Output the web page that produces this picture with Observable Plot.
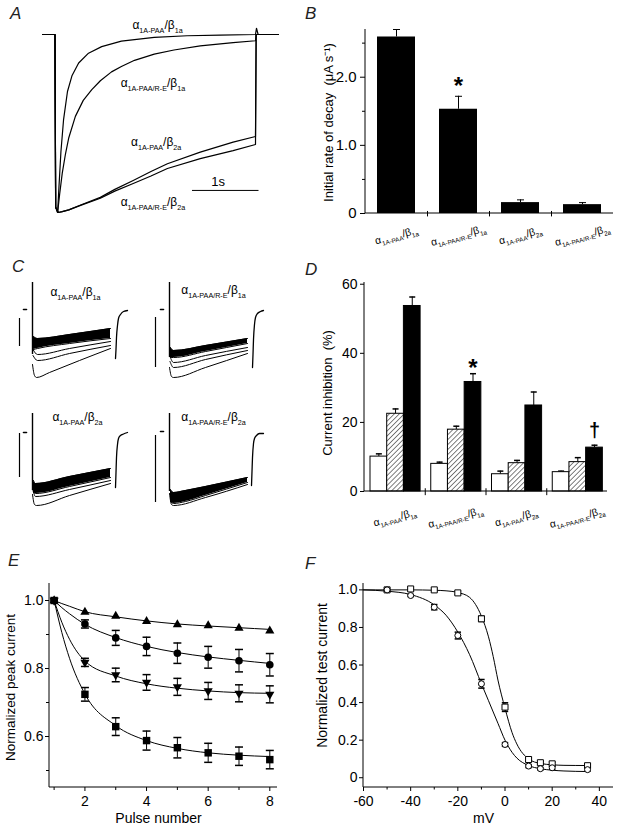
<!DOCTYPE html>
<html>
<head>
<meta charset="utf-8">
<script src="https://cdn.jsdelivr.net/npm/d3@7"></script>
<script src="https://cdn.jsdelivr.net/npm/@observablehq/plot@0.6"></script>
<style>
  html, body { margin: 0; padding: 0; background: #fff; }
  #fig { position: relative; width: 620px; height: 827px; background: #fff; overflow: hidden;
         font-family: "Liberation Sans", Arial, Helvetica, sans-serif; color: #000; }
  .letter { position: absolute; font-style: italic; font-size: 17px; line-height: 1; color: #222; }
</style>
</head>
<body>
<div id="fig"></div>
<script>
// ================= DATA =================
const constructs = ["α_{1A-PAA}/β_{1a}", "α_{1A-PAA/R-E}/β_{1a}", "α_{1A-PAA}/β_{2a}", "α_{1A-PAA/R-E}/β_{2a}"];

// ---- Panel A: normalised current traces [time (s), current] ----
const traceA1 = [[-0.2,0],[-0.01,0],[0,-0.97],[0.03,-1.0],[0.05,-0.86],[0.08,-0.66],[0.12,-0.48],[0.18,-0.32],[0.25,-0.23],[0.35,-0.16],[0.5,-0.105],[0.7,-0.068],[1.0,-0.037],[1.5,-0.016],[2.0,-0.007],[2.5,-0.003],[3.04,0],[3.055,0.035],[3.08,0],[3.39,0]];
const traceA2 = [[-0.2,0],[-0.01,0],[0,-0.97],[0.03,-1.0],[0.06,-0.9],[0.1,-0.78],[0.15,-0.67],[0.2,-0.58],[0.3,-0.46],[0.42,-0.37],[0.55,-0.31],[0.68,-0.26],[0.85,-0.21],[1.0,-0.18],[1.2,-0.145],[1.5,-0.11],[1.8,-0.087],[2.2,-0.064],[2.7,-0.046],[3.04,-0.035],[3.05,0],[3.39,0]];
const traceA3 = [[-0.2,0],[-0.01,0],[0,-0.97],[0.04,-1.0],[0.1,-0.995],[0.2,-0.985],[0.4,-0.955],[0.68,-0.915],[0.9,-0.87],[1.18,-0.82],[1.45,-0.77],[1.7,-0.726],[2.2,-0.661],[2.7,-0.605],[3.04,-0.573],[3.05,0],[3.39,0]];
const traceA4 = [[-0.2,0],[-0.01,0],[0,-0.97],[0.04,-1.0],[0.1,-0.995],[0.2,-0.985],[0.4,-0.957],[0.68,-0.92],[0.9,-0.88],[1.18,-0.837],[1.45,-0.795],[1.7,-0.753],[2.2,-0.697],[2.7,-0.652],[3.04,-0.618],[3.05,0],[3.39,0]];
const aLabelTime = [1.55, 1.48, 1.53, 1.48];
const aLabelCurrent = [0.05, -0.275, -0.607, -0.944];
const aScaleBarTime = [2.08, 3.08];
const aScaleBarCurrent = -0.876;
const aScaleText = "1s";

// ---- Panel B: initial rate of decay (µA/s) ----
const decayRate = [2.59, 1.53, 0.16, 0.13];
const decayErr = [0.11, 0.19, 0.04, 0.03];
const bTicks = [0, 1, 2];
const bMinorTicks = [0.5, 1.5, 2.5];
const bStar = [{g: constructs[1], y: 1.96}];

// ---- Panel C: current families [time, current] ----
const cScaleBars = [[0,-9,-37],[0,-8,-58],[0,-1,-45],[0,-4,-71]];
const cDash = [[4,7],[5,8],[4,7],[5,8]];
const cSpikes = [[13,27,-45],[14,27,-48],[13,19,-58],[14,18,-60]];
const cBandTL = [[14,-27,-40],[18,-29,-39],[50,-25,-34],[91,-19,-29]];
const cBandTR = [[15,-38,-48],[18,-41,-48],[50,-36,-42],[92,-29,-34]];
const cBandBL = [[14,-48,-60],[16,-51,-61],[50,-44,-54],[91,-36,-45]];
const cBandBR = [[15,-58,-70],[18,-61,-72],[30,-59,-70],[50,-55,-64],[92,-46,-51]];
const cTracesTL = [
  [[13.5,-40],[18,-45],[50,-39],[91,-32]],
  [[13.5,-46],[18,-51],[50,-44],[91,-36]],
  [[13,-55],[15,-66],[17,-68],[30,-63],[60,-51],[91,-39]]];
const cTracesTR = [
  [[14.5,-47],[18,-53],[50,-46],[92,-38]],
  [[14.5,-52],[18,-58],[50,-50],[92,-41]],
  [[14,-58],[16,-67],[18,-68],[50,-58],[92,-44]]];
const cTracesBL = [
  [[13.5,-58],[16,-64],[50,-57],[91,-48]],
  [[13,-62],[15,-72],[17,-73],[50,-63],[91,-51]]];
const cTracesBR = [
  [[14,-62],[16,-73],[18,-74],[50,-66],[92,-53]]];
const cTailTL = [[96,-49],[96.5,-40],[97,-28],[98,-16],[99,-9],[101,-5],[104,-2],[108,-1]];
const cTailTR = [[97,-58],[97.5,-45],[98,-30],[99,-15],[100,-8],[102,-4],[105,-2],[108,-1]];
const cTailBL = [[96,-55],[96.5,-40],[97,-25],[98,-12],[99,-6],[101,-3],[104,-1.5],[108,0]];
const cTailBR = [[96,-54],[96.5,-40],[97,-26],[98,-12],[99,-7],[101,-4],[104,-2],[108,-2]];
const cTitleTime = [56, 58, 58, 58];
const cTitleCurrent = [17, 19, 15, 14];

// ---- Panel D: current inhibition (%) ----
const inhibOpen = [10.1, 8.0, 5.0, 5.6];
const inhibOpenErr = [0.8, 0.5, 0.9, 0.3];
const inhibHatch = [22.5, 17.9, 8.2, 8.5];
const inhibHatchErr = [1.4, 1.0, 0.8, 1.3];
const inhibSolid = [53.7, 31.7, 24.9, 12.7];
const inhibSolidErr = [2.6, 2.4, 3.9, 0.7];
const dTicks = [0, 20, 40, 60];
const dStar = [{g: constructs[1], y: 37.4}];
const dDagger = [{g: constructs[3], y: 17.7}];

// ---- Panel E: normalised peak current vs pulse number ----
const pulse = [1, 2, 3, 4, 5, 6, 7, 8];
const peakTri = [1.0, 0.966, 0.954, 0.939, 0.929, 0.926, 0.919, 0.911];
const peakCirc = [1.0, 0.931, 0.890, 0.865, 0.845, 0.833, 0.823, 0.811];
const peakCircErr = [0, 0.012, 0.022, 0.027, 0.030, 0.032, 0.033, 0.033];
const peakInv = [1.0, 0.818, 0.781, 0.759, 0.746, 0.734, 0.727, 0.724];
const peakInvErr = [0, 0.012, 0.020, 0.023, 0.025, 0.025, 0.025, 0.025];
const peakSq = [1.0, 0.724, 0.629, 0.588, 0.567, 0.552, 0.542, 0.532];
const peakSqErr = [0, 0.020, 0.026, 0.028, 0.030, 0.028, 0.027, 0.027];
const eFitX = [1, 1.25, 1.5, 2, 3, 4, 5, 6, 7, 8];
const eFitTri = [1.0, 0.991, 0.983, 0.967, 0.952, 0.940, 0.931, 0.925, 0.920, 0.915];
const eFitCirc = [1.0, 0.979, 0.961, 0.930, 0.891, 0.865, 0.847, 0.834, 0.824, 0.815];
const eFitInv = [1.0, 0.936, 0.886, 0.822, 0.778, 0.755, 0.742, 0.734, 0.729, 0.727];
const eFitSq = [1.0, 0.906, 0.830, 0.725, 0.632, 0.588, 0.565, 0.552, 0.545, 0.541];

// ---- Panel F: normalised test current vs prepulse (mV) ----
const mV = [-50, -40, -30, -20, -10, 0, 10, 15, 20, 35];
const testSq = [1.0, 1.005, 1.0, 0.984, 0.846, 0.376, 0.097, 0.080, 0.074, 0.064];
const testSqErr = [0, 0.005, 0.005, 0.008, 0.014, 0.023, 0.010, 0.008, 0.008, 0.008];
const testCirc = [1.0, 0.970, 0.908, 0.757, 0.500, 0.177, 0.062, 0.048, 0.053, 0.043];
const testCircErr = [0, 0.005, 0.014, 0.018, 0.023, 0.010, 0.008, 0.006, 0.008, 0.008];
const fFitX = [-60, -50, -40, -30, -25, -20, -15, -10, -7, -5, -3, 0, 3, 5, 10, 15, 20, 25, 35];
const fFitSq = [1.0, 1.0, 1.0, 0.998, 0.995, 0.986, 0.96, 0.86, 0.75, 0.645, 0.52, 0.37, 0.24, 0.18, 0.10, 0.076, 0.069, 0.066, 0.065];
const fFitCirc = [1.0, 0.993, 0.975, 0.92, 0.865, 0.775, 0.655, 0.50, 0.41, 0.35, 0.29, 0.20, 0.135, 0.105, 0.065, 0.048, 0.040, 0.036, 0.033];

// ================= HELPERS =================
const FONT = '"Liberation Sans", Arial, Helvetica, sans-serif';
const baseStyle = {fontFamily: FONT, fontSize: "13px", background: "transparent", overflow: "visible", color: "#000"};
const fig = document.getElementById("fig");

function subify(root) {
  const NS = "http://www.w3.org/2000/svg";
  root.querySelectorAll("text").forEach(t => {
    const s = t.textContent;
    if (!s.includes("_{")) return;
    const fs = parseFloat(getComputedStyle(t).fontSize) || 12;
    while (t.firstChild) t.removeChild(t.firstChild);
    const parts = s.split(/(_\{[^}]*\})/).filter(p => p.length);
    let down = false;
    for (const p of parts) {
      const ts = document.createElementNS(NS, "tspan");
      if (p.startsWith("_{")) {
        ts.textContent = p.slice(2, -1);
        ts.setAttribute("font-size", (fs * 0.6).toFixed(2));
        if (!down) ts.setAttribute("dy", (fs * 0.28).toFixed(2));
        down = true;
      } else {
        ts.textContent = p;
        if (down) ts.setAttribute("dy", (-fs * 0.28).toFixed(2));
        down = false;
      }
      t.appendChild(ts);
    }
  });
}
function place(el, left, top) {
  el.style.position = "absolute";
  el.style.left = left + "px";
  el.style.top = top + "px";
  fig.appendChild(el);
  subify(el);
  return el;
}
function letter(txt, left, top) {
  const d = document.createElement("div");
  d.className = "letter"; d.textContent = txt;
  d.style.left = left + "px"; d.style.top = top + "px";
  fig.appendChild(d);
}
// horizontal cap symbol for error bars
const capSymbol = {draw(ctx, size) { const w = Math.sqrt(size / Math.PI); ctx.moveTo(-w, 0); ctx.lineTo(w, 0); }};
// downward triangle symbol
const triDown = {draw(ctx, size) {
  const s3 = Math.sqrt(3); const y = -Math.sqrt(size / (s3 * 3));
  ctx.moveTo(0, -y * 2); ctx.lineTo(-s3 * y, y); ctx.lineTo(s3 * y, y); ctx.closePath();
}};
// axis lines along left and bottom of the frame
function frameLines(index, scales, values, dims) {
  const {width, height, marginLeft, marginRight, marginTop, marginBottom} = dims;
  const g = d3.create("svg:g").attr("stroke", "#000").attr("stroke-width", 1).attr("fill", "none");
  g.append("line").attr("x1", marginLeft).attr("x2", marginLeft).attr("y1", marginTop).attr("y2", height - marginBottom);
  g.append("line").attr("x1", marginLeft).attr("x2", width - marginRight).attr("y1", height - marginBottom).attr("y2", height - marginBottom);
  return g.node();
}
const fmt1 = d => d === 0 ? "0" : d.toFixed(1);
const yTitle = (txt, dx, dy, fontSize) =>
  Plot.text([txt], {frameAnchor: "left", rotate: -90, dx, dy, text: d => d, fontSize, textAnchor: "middle", lineAnchor: "middle"});
const xTitle = (txt, dx, dy, fontSize) =>
  Plot.text([txt], {frameAnchor: "bottom", dx, dy, text: d => d, fontSize, textAnchor: "middle", lineAnchor: "middle"});

// ================= PANEL A =================
{
  const traces = [traceA1, traceA2, traceA3, traceA4];
  const labels = constructs.map((c, i) => ({c, t: aLabelTime[i], i: aLabelCurrent[i]}));
  const p = Plot.plot({
    width: 300, height: 225, marginLeft: 42, marginRight: 22, marginTop: 34, marginBottom: 13,
    x: {domain: [-0.2, 3.39], axis: null}, y: {domain: [-1, 0], axis: null},
    style: baseStyle,
    marks: [
      ...traces.map(tr => Plot.line(tr, {x: d => d[0], y: d => d[1], stroke: "#000", strokeWidth: 1.2})),
      Plot.line(aScaleBarTime, {x: d => d, y: () => aScaleBarCurrent, stroke: "#000", strokeWidth: 1}),
      Plot.text([aScaleText], {x: () => d3.mean(aScaleBarTime) - 0.11, y: () => aScaleBarCurrent + 0.05, text: d => d, fontSize: 13}),
      Plot.text(labels, {x: "t", y: "i", text: "c", fontSize: 12})
    ]
  });
  place(p, 0, 0);
}

// ================= PANEL B =================
{
  const data = constructs.map((g, i) => ({g, v: decayRate[i], e: decayErr[i]}));
  const p = Plot.plot({
    width: 320, height: 262, marginLeft: 65, marginRight: 7, marginTop: 29, marginBottom: 49,
    x: {domain: constructs, padding: 0, axis: null, round: false}, y: {domain: [0, 2.7], axis: null},
    style: baseStyle,
    marks: [
      Plot.ruleX(data, {x: "g", y1: "v", y2: d => d.v + d.e, stroke: "#000"}),
      Plot.dot(data, {x: "g", y: d => d.v + d.e, symbol: capSymbol, r: 3.5, stroke: "#000", strokeWidth: 1}),
      Plot.barY(data, {x: "g", y: "v", fill: "#000", insetLeft: 12, insetRight: 12}),
      frameLines,
      Plot.ruleX(constructs.slice(0, 3), {x: d => d, dx: 31, y1: 0.03, y2: -0.05, stroke: "#000"}),
      Plot.axisY({ticks: bTicks, tickFormat: fmt1, tickSize: 5, tickPadding: 4, fontSize: 15, label: null}),
      Plot.axisY({ticks: bMinorTicks, tickFormat: () => "", tickSize: 3, label: null}),
      yTitle("Initial rate of decay  (μA s⁻¹)", -37, 1, 13),
      Plot.text(constructs, {x: d => d, y: () => 0, dy: 22, rotate: -15, text: d => d, fontSize: 10.5}),
      Plot.text(bStar, {x: d => d.g, y: d => d.y, rotate: 0, dx: 0, dy: 6, text: () => "*", fontSize: 24, fontWeight: "bold", textAnchor: "middle"})
    ]
  });
  place(p, 300, 0);
}

// ================= PANEL C =================
{
  const bands = [cBandTL, cBandTR, cBandBL, cBandBR];
  const traces = [cTracesTL, cTracesTR, cTracesBL, cTracesBR];
  const tails = [cTailTL, cTailTR, cTailBL, cTailBR];
  const spots = [[17, 279], [153, 279], [17, 402], [153, 401]];
  constructs.forEach((title, k) => {
    const sb = cScaleBars[k], sp = cSpikes[k];
    const p = Plot.plot({
      width: 115, height: 105, marginLeft: 2, marginRight: 3, marginTop: 0, marginBottom: 0,
      x: {domain: [0, 110], axis: null}, y: {domain: [-75, 30], axis: null},
      style: baseStyle,
      marks: [
        Plot.ruleX([sb], {x: d => d[0], y1: d => d[1], y2: d => d[2], stroke: "#000", strokeWidth: 1.2}),
        Plot.line(cDash[k], {x: d => d, y: () => 0, stroke: "#000", strokeWidth: 1.6}),
        Plot.ruleX([sp], {x: d => d[0], y1: d => d[1], y2: d => d[2], stroke: "#000", strokeWidth: 1.4}),
        Plot.areaY(bands[k], {x: d => d[0], y1: d => d[1], y2: d => d[2], fill: "#000", curve: "monotone-x"}),
        Plot.line(bands[k], {x: d => d[0], y: d => d[1], stroke: "#000", strokeWidth: 1, curve: "monotone-x"}),
        Plot.line(bands[k], {x: d => d[0], y: d => d[2], stroke: "#000", strokeWidth: 1, curve: "monotone-x"}),
        ...traces[k].map(tr => Plot.line(tr, {x: d => d[0], y: d => d[1], stroke: "#000", strokeWidth: 1, curve: "monotone-x"})),
        Plot.line(tails[k], {x: d => d[0], y: d => d[1], stroke: "#000", strokeWidth: 1.3, curve: "monotone-x"}),
        Plot.text([title], {x: () => cTitleTime[k], y: () => cTitleCurrent[k], text: d => d, fontSize: 12})
      ]
    });
    place(p, spots[k][0], spots[k][1]);
  });
}

// ================= PANEL D =================
{
  const band = 243 / 4;
  const bw = 16.7, off = 6;
  const series = [
    {vals: inhibOpen, errs: inhibOpenErr, fill: "#fff", l: off},
    {vals: inhibHatch, errs: inhibHatchErr, fill: "url(#hatchD)", l: off + bw},
    {vals: inhibSolid, errs: inhibSolidErr, fill: "#000", l: off + 2 * bw}
  ];
  const marks = [];
  for (const s of series) {
    const data = constructs.map((g, i) => ({g, v: s.vals[i], e: s.errs[i]}));
    const dx = s.l + bw / 2 - band / 2;
    marks.push(
      Plot.ruleX(data, {x: "g", dx, y1: "v", y2: d => d.v + d.e, stroke: "#000"}),
      Plot.dot(data, {x: "g", dx, y: d => d.v + d.e, symbol: capSymbol, r: 3, stroke: "#000"}),
      Plot.barY(data, {x: "g", y: "v", fill: s.fill, stroke: "#000", strokeWidth: 1, insetLeft: s.l, insetRight: band - s.l - bw})
    );
  }
  const dxSolid = off + 2.5 * bw - band / 2;
  const p = Plot.plot({
    width: 320, height: 275, marginLeft: 64, marginRight: 13, marginTop: 12, marginBottom: 54,
    x: {domain: constructs, padding: 0, axis: null, round: false}, y: {domain: [0, 60.5], axis: null},
    style: baseStyle,
    marks: [
      ...marks,
      frameLines,
      Plot.ruleX(constructs.slice(0, 3), {x: d => d, dx: band / 2, y1: 0.8, y2: -1.2, stroke: "#000"}),
      Plot.axisY({ticks: dTicks, tickSize: 4, tickPadding: 3, fontSize: 14, label: null}),
      yTitle("Current inhibition  (%)", -37, 6, 13),
      Plot.text(constructs, {x: d => d, y: () => 0, dy: 26, rotate: -15, text: d => d, fontSize: 10.5}),
      Plot.text(dStar, {x: d => d.g, y: d => d.y, rotate: 0, dx: dxSolid, dy: 6, text: () => "*", fontSize: 24, fontWeight: "bold", textAnchor: "middle"}),
      Plot.text(dDagger, {x: d => d.g, y: d => d.y, rotate: 0, dx: dxSolid, dy: 0, text: () => "†", fontSize: 20, fontWeight: "bold", textAnchor: "middle"})
    ]
  });
  const defs = d3.select(p).insert("defs", ":first-child");
  const pat = defs.append("pattern").attr("id", "hatchD").attr("patternUnits", "userSpaceOnUse")
    .attr("width", 3.5).attr("height", 3.5).attr("patternTransform", "rotate(45)");
  pat.append("rect").attr("width", 3.5).attr("height", 3.5).attr("fill", "#fff");
  pat.append("line").attr("x1", 0).attr("y1", 0).attr("x2", 0).attr("y2", 3.5).attr("stroke", "#000").attr("stroke-width", 1);
  place(p, 300, 270);
}

// ================= PANEL E =================
{
  const mk = (vals, errs) => pulse.map((x, i) => ({x, v: vals[i], e: errs ? errs[i] : 0}));
  const tri = mk(peakTri), circ = mk(peakCirc, peakCircErr), inv = mk(peakInv, peakInvErr), sq = mk(peakSq, peakSqErr);
  const fit = vals => eFitX.map((x, i) => ({x, v: vals[i]}));
  const errMarks = d => {
    const e = d.filter(p => p.e > 0);
    return [
      Plot.ruleX(e, {x: "x", y1: p => p.v - p.e, y2: p => p.v + p.e, stroke: "#000"}),
      Plot.dot(e, {x: "x", y: p => p.v - p.e, symbol: capSymbol, r: 4, stroke: "#000"}),
      Plot.dot(e, {x: "x", y: p => p.v + p.e, symbol: capSymbol, r: 4, stroke: "#000"})
    ];
  };
  const p = Plot.plot({
    width: 300, height: 252, marginLeft: 49, marginRight: 23, marginTop: 8, marginBottom: 40,
    x: {domain: [0.85, 8.25], axis: null}, y: {domain: [0.45, 1.05], axis: null},
    style: baseStyle,
    marks: [
      frameLines,
      Plot.axisY({ticks: [0.6, 0.8, 1.0], tickFormat: fmt1, tickSize: 4, tickPadding: 2, fontSize: 14, label: null}),
      Plot.axisY({ticks: [0.5, 0.7, 0.9], tickFormat: () => "", tickSize: 3, label: null}),
      Plot.axisX({ticks: [2, 4, 6, 8], tickSize: 4, tickPadding: 5, fontSize: 14, label: null}),
      Plot.axisX({ticks: [1, 3, 5, 7], tickFormat: () => "", tickSize: 3, label: null}),
      ...[eFitTri, eFitCirc, eFitInv, eFitSq].map(f => Plot.line(fit(f), {x: "x", y: "v", stroke: "#000", strokeWidth: 1, curve: "monotone-x"})),
      ...errMarks(circ), ...errMarks(inv), ...errMarks(sq),
      Plot.dot(tri, {x: "x", y: "v", symbol: "triangle", r: 3.4, fill: "#000", stroke: "none"}),
      Plot.dot(circ, {x: "x", y: "v", symbol: "circle", r: 3.8, fill: "#000", stroke: "none"}),
      Plot.dot(inv, {x: "x", y: "v", symbol: triDown, r: 3.4, fill: "#000", stroke: "none"}),
      Plot.dot(sq, {x: "x", y: "v", symbol: "square", r: 4.2, fill: "#000", stroke: "none"}),
      yTitle("Normalized peak current", -39, 2, 13.5),
      xTitle("Pulse number", -5, 31, 14)
    ]
  });
  place(p, 0, 575);
}

// ================= PANEL F =================
{
  const mk = (vals, errs) => mV.map((x, i) => ({x, v: vals[i], e: errs[i]}));
  const sq = mk(testSq, testSqErr), circ = mk(testCirc, testCircErr);
  const fit = vals => fFitX.map((x, i) => ({x, v: vals[i]}));
  const errMarks = d => {
    const e = d.filter(p => p.e > 0);
    return [
      Plot.ruleX(e, {x: "x", y1: p => p.v - p.e, y2: p => p.v + p.e, stroke: "#000"}),
      Plot.dot(e, {x: "x", y: p => p.v - p.e, symbol: capSymbol, r: 3.2, stroke: "#000"}),
      Plot.dot(e, {x: "x", y: p => p.v + p.e, symbol: capSymbol, r: 3.2, stroke: "#000"})
    ];
  };
  const p = Plot.plot({
    width: 310, height: 252, marginLeft: 53, marginRight: 7, marginTop: 8, marginBottom: 40,
    x: {domain: [-60, 46], axis: null}, y: {domain: [-0.052, 1.034], axis: null},
    style: baseStyle,
    marks: [
      frameLines,
      Plot.axisY({ticks: [0, 0.2, 0.4, 0.6, 0.8, 1.0], tickFormat: fmt1, tickSize: 4, tickPadding: 2, fontSize: 14, label: null}),
      Plot.axisX({ticks: [-60, -40, -20, 0, 20, 40], tickFormat: d => String(d), tickSize: 4, tickPadding: 5, fontSize: 14, label: null}),
      Plot.axisX({ticks: [-50, -30, -10, 10, 30], tickFormat: () => "", tickSize: 2.5, label: null}),
      Plot.line(fit(fFitSq), {x: "x", y: "v", stroke: "#000", strokeWidth: 1, curve: "monotone-x"}),
      Plot.line(fit(fFitCirc), {x: "x", y: "v", stroke: "#000", strokeWidth: 1, curve: "monotone-x"}),
      ...errMarks(sq), ...errMarks(circ),
      Plot.dot(sq, {x: "x", y: "v", symbol: "square", r: 3.4, fill: "#fff", stroke: "#000", strokeWidth: 1}),
      Plot.dot(circ, {x: "x", y: "v", symbol: "circle", r: 3, fill: "#fff", stroke: "#000", strokeWidth: 1}),
      yTitle("Normalized test current", -41, -10, 14),
      xTitle("mV", -5, 31, 14)
    ]
  });
  place(p, 310, 575);
}

// ================= PANEL LETTERS =================
letter("A", 10, 5);
letter("B", 305, 5);
letter("C", 12, 258);
letter("D", 305, 261);
letter("E", 8, 552);
letter("F", 305, 555);
</script>
</body>
</html>
